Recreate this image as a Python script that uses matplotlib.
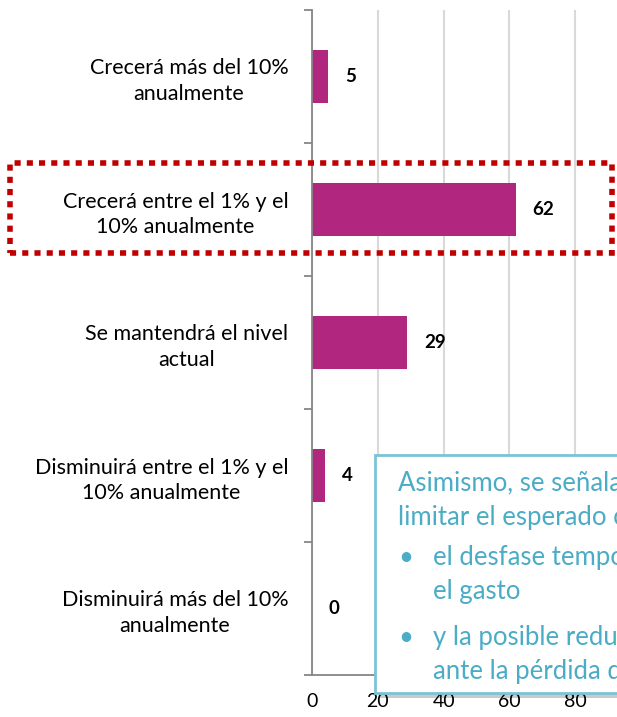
import numpy as np
import matplotlib
matplotlib.use("Agg")
import matplotlib.pyplot as plt
from matplotlib.patches import Rectangle

plt.rcParams['font.family'] = ['Lato', 'DejaVu Sans']

categorias = ["Crecerá más del 10%\nanualmente",
              "Crecerá entre el 1% y el\n10% anualmente",
              "Se mantendrá el nivel\nactual",
              "Disminuirá entre el 1% y el\n10% anualmente",
              "Disminuirá más del 10%\nanualmente"]
valores = [5, 62, 29, 4, 0]
xticks = [0, 20, 40, 60, 80]

nota_titulo = ["Asimismo, se señalan factores que podrían",
               "limitar el esperado crecimiento:"]
nota_puntos = [["el desfase temporal entre ingresos y", "el gasto"],
               ["y la posible reducción de la demanda", "ante la pérdida de empleo"]]

W, H = 617, 717
fig = plt.figure(figsize=(W / 100, H / 100), dpi=100)
ax = fig.add_axes([312 / W, 1 - 675 / H, (641 - 312) / W, (675 - 10) / H])

pos = np.arange(len(categorias))
ax.barh(pos, valores, height=0.4, color="#B1277F", zorder=3)
for p, v in zip(pos, valores):
    ax.annotate(str(v), (v, p), xytext=(12, 0), textcoords="offset points",
                va="center", ha="left", fontsize=13.5, fontweight="bold")

ax.set_xlim(0, 100)
ax.set_ylim(len(categorias) - 0.5, -0.5)
ax.set_xticks(xticks)
ax.tick_params(axis="x", length=0, labelsize=14, pad=13)
ax.set_yticks(pos)
ax.set_yticklabels(categorias, multialignment="center", fontsize=15.5, linespacing=1.35)
ax.tick_params(axis="y", which="major", length=0, pad=17)
ax.set_yticks(np.arange(len(categorias) + 1) - 0.5, minor=True)
ax.tick_params(axis="y", which="minor", length=6, width=1.3, color="#868686")
ax.grid(axis="x", color="#d9d9d9", linewidth=1.5, zorder=0)
for s in ["top", "right"]:
    ax.spines[s].set_visible(False)
for s in ["left", "bottom"]:
    ax.spines[s].set_color("#868686")
    ax.spines[s].set_linewidth(1.3)
ax.spines["left"].set_zorder(4)

# recuadro rojo punteado
fig.patches.append(Rectangle((10 / W, 1 - 253 / H), 602 / W, 90 / H,
                             transform=fig.transFigure, fill=False,
                             edgecolor="#C00000", linewidth=4,
                             linestyle=(0, (1.1, 1.1)), zorder=10))

# cuadro de texto con sombra
x0, y0, x1, y1 = 375, 455, 700, 693
fig.patches.append(Rectangle(((x0 + 4) / W, 1 - (y1 + 5) / H), (x1 - x0) / W, (y1 - y0) / H,
                             transform=fig.transFigure, facecolor="#00000035",
                             edgecolor="none", zorder=11))
fig.patches.append(Rectangle((x0 / W, 1 - y1 / H), (x1 - x0) / W, (y1 - y0) / H,
                             transform=fig.transFigure, facecolor="white",
                             edgecolor="#7CC3D6", linewidth=2, zorder=12))
azul = "#4BACC6"
fs = 18.5
lineas = [(398, 483, nota_titulo[0]), (398, 517, nota_titulo[1]),
          (433, 558, nota_puntos[0][0]), (433, 592, nota_puntos[0][1]),
          (433, 637, nota_puntos[1][0]), (433, 671, nota_puntos[1][1])]
for x, y, t in lineas:
    fig.text(x / W, 1 - y / H, t, color=azul, fontsize=fs, va="center", zorder=13)
for y in [558, 637]:
    fig.text(398 / W, 1 - y / H, "•", color=azul, fontsize=fs, va="center", zorder=13)

fig.savefig("out.png", dpi=100)
